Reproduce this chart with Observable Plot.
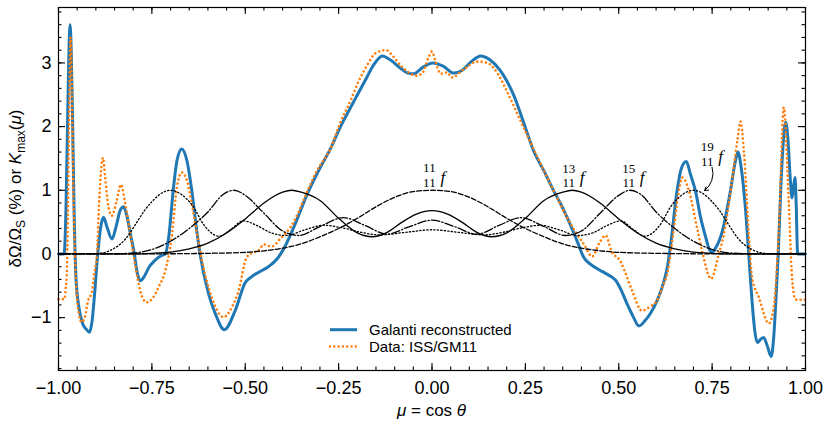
<!DOCTYPE html>
<html>
<head>
<meta charset="utf-8">
<script src="https://cdn.jsdelivr.net/npm/d3@7"></script>
<script src="https://cdn.jsdelivr.net/npm/@observablehq/plot@0.6"></script>
<style>
  html, body { margin: 0; padding: 0; background: #fff; }
</style>
</head>
<body>
<div id="chart"></div>
<script>
// ---------------- data ----------------
const galantiMu = [-1.000,-0.985,-0.980,-0.975,-0.972,-0.969,-0.966,-0.962,-0.958,-0.953,-0.945,-0.935,-0.926,-0.917,-0.910,-0.903,-0.895,-0.887,-0.8795,-0.870,-0.857,-0.845,-0.835,-0.826,-0.817,-0.807,-0.797,-0.789,-0.781,-0.770,-0.757,-0.745,-0.732,-0.722,-0.714,-0.705,-0.692,-0.683,-0.670,-0.656,-0.643,-0.630,-0.621,-0.598,-0.580,-0.556,-0.527,-0.500,-0.486,-0.465,-0.438,-0.415,-0.397,-0.370,-0.334,-0.300,-0.272,-0.245,-0.218,-0.195,-0.174,-0.155,-0.133,-0.110,-0.085,-0.065,-0.049,-0.025,0.002,0.030,0.058,0.080,0.105,0.130,0.155,0.183,0.200,0.219,0.245,0.272,0.300,0.326,0.345,0.362,0.388,0.406,0.424,0.445,0.460,0.478,0.491,0.505,0.522,0.540,0.554,0.570,0.585,0.603,0.620,0.630,0.639,0.656,0.668,0.681,0.692,0.705,0.720,0.732,0.742,0.750,0.760,0.777,0.799,0.812,0.819,0.828,0.839,0.848,0.857,0.864,0.871,0.880,0.888,0.898,0.908,0.915,0.921,0.927,0.934,0.941,0.947,0.953,0.959,0.964,0.968,0.972,0.975,0.979,0.985,1.000];
const galantiVal = [0,0,0.7,2.3,3.2,3.6,3.2,2.0,0.6,-0.4,-0.85,-1.1,-1.18,-1.23,-1.05,-0.6,0,0.42,0.575,0.42,0.235,0.45,0.68,0.74,0.6,0.3,0,-0.3,-0.42,-0.35,-0.2,-0.12,-0.05,-0.02,0,0.26,1.05,1.46,1.65,1.46,0.99,0.37,0,-0.63,-0.94,-1.19,-0.89,-0.45,-0.37,-0.29,-0.2,-0.08,0.08,0.42,0.94,1.35,1.65,2.0,2.3,2.55,2.78,2.98,3.11,3.04,2.92,2.84,2.83,2.93,3.0,2.95,2.84,2.88,3.02,3.11,3.05,2.88,2.72,2.49,2.07,1.62,1.3,0.99,0.78,0.57,0.21,-0.05,-0.16,-0.24,-0.29,-0.35,-0.41,-0.55,-0.78,-1.0,-1.13,-1.05,-0.93,-0.73,-0.45,-0.21,0.15,0.99,1.35,1.45,1.25,1.0,0.55,0.28,0.08,0.03,0.1,0.35,0.99,1.45,1.6,1.35,0.73,0,-0.75,-1.2,-1.39,-1.34,-1.31,-1.45,-1.61,-1.3,-0.7,0,1.05,1.8,2.07,1.8,1.2,0.88,1.05,1.2,0.8,0,0,0];

const issMu = [-1.000,-0.984,-0.981,-0.978,-0.975,-0.972,-0.968,-0.965,-0.962,-0.958,-0.952,-0.945,-0.938,-0.930,-0.920,-0.911,-0.904,-0.897,-0.891,-0.886,-0.881,-0.875,-0.866,-0.857,-0.844,-0.833,-0.821,-0.808,-0.795,-0.781,-0.764,-0.746,-0.732,-0.714,-0.697,-0.683,-0.670,-0.656,-0.643,-0.630,-0.616,-0.590,-0.558,-0.536,-0.518,-0.496,-0.480,-0.465,-0.450,-0.440,-0.428,-0.406,-0.379,-0.357,-0.343,-0.331,-0.308,-0.272,-0.245,-0.218,-0.196,-0.174,-0.152,-0.124,-0.102,-0.084,-0.062,-0.044,-0.027,-0.009,0.000,0.009,0.023,0.041,0.053,0.085,0.121,0.148,0.174,0.200,0.237,0.272,0.300,0.326,0.362,0.388,0.406,0.429,0.447,0.465,0.480,0.505,0.516,0.536,0.562,0.585,0.603,0.618,0.630,0.648,0.660,0.670,0.688,0.710,0.725,0.747,0.768,0.781,0.795,0.808,0.818,0.826,0.835,0.848,0.857,0.875,0.902,0.915,0.929,0.942,0.955,0.964,0.973,0.980,1.000];
const issVal = [-0.71,-0.71,-0.55,-0.35,0.6,2.0,3.4,2.9,1.7,0.4,-0.55,-0.95,-1.07,-1.0,-0.72,-0.6,-0.3,0,0.84,1.31,1.51,1.2,0.73,0.60,0.84,1.09,0.78,0.31,-0.16,-0.58,-0.76,-0.68,-0.52,-0.26,0.26,1.05,1.28,1.15,0.78,0.35,-0.1,-0.68,-0.99,-0.84,-0.58,-0.05,0.02,0.05,0.15,0.13,0.12,0.24,0.42,0.66,0.86,1.02,1.31,1.65,2.07,2.41,2.72,2.96,3.15,3.2,3.09,2.96,2.85,2.8,2.83,3.09,3.18,3.03,2.83,2.85,2.77,2.9,3.02,3.0,2.85,2.56,2.09,1.65,1.3,0.99,0.57,0.31,0.16,-0.04,0.16,0.29,0.05,-0.12,-0.27,-0.58,-0.89,-0.82,-0.73,-0.5,-0.31,0.42,0.95,1.2,0.99,0.4,0,-0.39,0,0.3,0.8,1.36,1.8,2.08,1.62,0.31,-0.37,-0.68,-1.09,-0.84,0.42,2.3,0.84,-0.37,-0.71,-0.72,-0.72];

// kernels K_max(mu)
const k11Mu  = [-1,-0.8,-0.7,-0.6,-0.5,-0.45,-0.4,-0.35,-0.3,-0.25,-0.2,-0.15,-0.1,-0.05,0,0.05,0.1,0.15,0.2,0.25,0.3,0.35,0.4,0.45,0.5,0.6,0.7,0.8,1];
const k11Val = [0,0,0.003,0.01,0.025,0.05,0.09,0.16,0.27,0.40,0.56,0.74,0.89,0.98,1.0,0.98,0.89,0.74,0.56,0.40,0.27,0.16,0.09,0.05,0.025,0.01,0.003,0,0];

const k13Mu  = [-1,-0.8,-0.75,-0.7,-0.65,-0.6,-0.55,-0.5,-0.45,-0.4,-0.375,-0.35,-0.3,-0.25,-0.2,-0.16,-0.12,-0.08,-0.04,0,0.04,0.08,0.12,0.16,0.2,0.25,0.3,0.35,0.375,0.4,0.45,0.5,0.55,0.6,0.65,0.7,0.75,0.8,1];
const k13Val = [0,0,0.01,0.03,0.08,0.17,0.33,0.55,0.8,0.97,1.0,0.97,0.84,0.56,0.33,0.27,0.34,0.5,0.63,0.68,0.63,0.5,0.34,0.27,0.33,0.56,0.84,0.97,1.0,0.97,0.8,0.55,0.33,0.17,0.08,0.03,0.01,0,0];

const k15Mu  = [-1,-0.85,-0.8,-0.75,-0.7,-0.65,-0.6,-0.56,-0.53,-0.5,-0.45,-0.4,-0.357,-0.3,-0.237,-0.18,-0.12,-0.06,0,0.06,0.12,0.18,0.237,0.3,0.357,0.4,0.45,0.5,0.53,0.56,0.6,0.65,0.7,0.75,0.8,0.85,1];
const k15Val = [0,0.003,0.015,0.07,0.2,0.4,0.66,0.93,1.0,0.92,0.64,0.36,0.29,0.43,0.57,0.45,0.31,0.43,0.53,0.43,0.31,0.45,0.57,0.43,0.29,0.36,0.64,0.92,1.0,0.93,0.66,0.4,0.2,0.07,0.015,0.003,0];

const k19Mu  = [-1,-0.92,-0.88,-0.86,-0.82,-0.79,-0.77,-0.75,-0.73,-0.7,-0.67,-0.64,-0.61,-0.57,-0.54,-0.505,-0.47,-0.43,-0.39,-0.34,-0.29,-0.24,-0.19,-0.14,-0.07,0,0.07,0.14,0.19,0.24,0.29,0.34,0.39,0.43,0.47,0.505,0.54,0.57,0.61,0.64,0.67,0.7,0.73,0.75,0.77,0.79,0.82,0.86,0.88,0.92,1];
const k19Val = [0,0,0.02,0.06,0.24,0.5,0.68,0.82,0.93,1.0,0.93,0.75,0.45,0.28,0.38,0.52,0.45,0.33,0.29,0.38,0.45,0.41,0.34,0.30,0.34,0.38,0.34,0.30,0.34,0.41,0.45,0.38,0.29,0.33,0.45,0.52,0.38,0.28,0.45,0.75,0.93,1.0,0.93,0.82,0.68,0.5,0.24,0.06,0.02,0,0];

// annotation labels: stacked fraction (numerator, denominator) + "f"
const labelNum = ["11", "13", "15", "19"];
const labelDen = ["11", "11", "11", "11"];
const labelMu  = [-0.007, 0.366, 0.527, 0.737];
const labelY   = [1.053, 1.045, 1.045, 1.38];   // denominator baseline
// arrow from 19/11 f label to its kernel
const arrowFrom = [0.750, 1.36];
const arrowTo   = [0.7296, 0.995];

// ticks
const xMajor = [-1,-0.75,-0.5,-0.25,0,0.25,0.5,0.75,1];
const xMinor = d3.range(-20, 21).map(i => i * 0.05);
const yMajor = [-1,0,1,2,3];
const yMinor = d3.range(-9, 20).map(i => i * 0.2);

// ---------------- layout ----------------
const W = 830, H = 428;
const mL = 58, mR = 25, mT = 7, mB = 58;
const xDom = [-1, 1], yDom = [-1.83, 3.87];
const pxX = (xDom[1] - xDom[0]) / (W - mL - mR);
const pxY = (yDom[1] - yDom[0]) / (H - mT - mB);
const majLen = 7, minLen = 3.5;

const toRows = (mu, v) => mu.map((m, i) => ({mu: m, v: v[i]}));
const galanti = toRows(galantiMu, galantiVal);
const iss = toRows(issMu, issVal);
const k11 = toRows(k11Mu, k11Val);
const k13 = toRows(k13Mu, k13Val);
const k15 = toRows(k15Mu, k15Val);
const k19 = toRows(k19Mu, k19Val);
const labels = labelNum.map((n, i) => ({num: n, den: labelDen[i], mu: labelMu[i], y: labelY[i]}));
const arrows = [{x1: arrowFrom[0], y1: arrowFrom[1], x2: arrowTo[0], y2: arrowTo[1]}];

const sans = "Liberation Sans, Arial, Helvetica, sans-serif";
const serif = "Liberation Serif, DejaVu Serif, serif";
const kw = 1.3;
const fracSize = 13, fracGap = 14.6;

const tickRulesX = (ticks, len) => [
  Plot.ruleX(ticks, {x: d => d, y1: () => yDom[0], y2: () => yDom[0] + len * pxY, stroke: "black", strokeWidth: 1.1}),
  Plot.ruleX(ticks, {x: d => d, y1: () => yDom[1] - len * pxY, y2: () => yDom[1], stroke: "black", strokeWidth: 1.1})
];
const tickRulesY = (ticks, len) => [
  Plot.ruleY(ticks, {y: d => d, x1: () => xDom[0], x2: () => xDom[0] + len * pxX, stroke: "black", strokeWidth: 1.1}),
  Plot.ruleY(ticks, {y: d => d, x1: () => xDom[1] - len * pxX, x2: () => xDom[1], stroke: "black", strokeWidth: 1.1})
];

const chart = Plot.plot({
  width: W, height: H,
  marginLeft: mL, marginRight: mR, marginTop: mT, marginBottom: mB,
  style: {fontFamily: sans, fontSize: "18px", background: "white", color: "black"},
  x: {domain: xDom, label: null},
  y: {domain: yDom, label: null},
  marks: [
    Plot.line(galanti, {x: "mu", y: "v", stroke: "#1f77b4", strokeWidth: 3, curve: "monotone-x"}),
    Plot.line(iss, {x: "mu", y: "v", stroke: "#ff7f0e", strokeWidth: 2.6, strokeDasharray: "0.01,4.3", strokeLinecap: "round", curve: "monotone-x"}),
    Plot.line(k11, {x: "mu", y: "v", stroke: "black", strokeWidth: kw, strokeDasharray: "4.9,2.1", curve: "monotone-x"}),
    Plot.line(k15, {x: "mu", y: "v", stroke: "black", strokeWidth: kw, strokeDasharray: "8.5,2.1,1.3,2.1", curve: "monotone-x"}),
    Plot.line(k19, {x: "mu", y: "v", stroke: "black", strokeWidth: kw, strokeDasharray: "1.3,2.2", curve: "monotone-x"}),
    Plot.line(k13, {x: "mu", y: "v", stroke: "black", strokeWidth: kw, curve: "monotone-x"}),
    Plot.text(labels, {x: "mu", y: "y", text: "num", lineAnchor: "bottom", dy: -fracGap, textAnchor: "middle", fontFamily: serif, fontSize: fracSize, fill: "black"}),
    Plot.text(labels, {x: "mu", y: "y", text: "den", lineAnchor: "bottom", textAnchor: "middle", fontFamily: serif, fontSize: fracSize, fill: "black"}),
    Plot.text(labels, {x: "mu", y: "y", text: () => "f", lineAnchor: "bottom", dx: 11, dy: -4, textAnchor: "start", fontFamily: serif, fontStyle: "italic", fontSize: 17, fill: "black"}),
    Plot.arrow(arrows, {x1: "x1", y1: "y1", x2: "x2", y2: "y2", bend: 35, headLength: 6, strokeWidth: 1, stroke: "black"}),
    ...tickRulesX(xMinor, minLen),
    ...tickRulesX(xMajor, majLen),
    ...tickRulesY(yMinor, minLen),
    ...tickRulesY(yMajor, majLen),
    Plot.axisX(xMajor, {anchor: "bottom", tickSize: 0, tickPadding: 11, tickFormat: d3.format(".2f"), label: null}),
    Plot.axisY(yMajor, {anchor: "left", tickSize: 0, tickPadding: 7, tickFormat: d3.format("d"), label: null}),
    Plot.frame({stroke: "black", strokeWidth: 1.2})
  ]
});

document.getElementById("chart").appendChild(chart);

// ---------------- axis titles and legend ----------------
const svg = d3.select(chart);

// y axis title
const yl = svg.append("text")
  .attr("transform", `translate(21,${(mT + H - mB) / 2}) rotate(-90)`)
  .attr("text-anchor", "middle")
  .style("font-family", sans).style("font-size", "17px").attr("fill", "black");
yl.append("tspan").text("δΩ/Ω");
yl.append("tspan").attr("dy", 4).style("font-size", "12px").text("S");
yl.append("tspan").attr("dy", -4).text(" (%) or ");
yl.append("tspan").style("font-style", "italic").text("K");
yl.append("tspan").attr("dy", 4).style("font-size", "12px").text("max");
yl.append("tspan").attr("dy", -4).text("(");
yl.append("tspan").style("font-style", "italic").text("μ");
yl.append("tspan").text(")");

// x axis title
const xl = svg.append("text")
  .attr("x", mL + (W - mL - mR) / 2).attr("y", 416)
  .attr("text-anchor", "middle")
  .style("font-family", sans).style("font-size", "17px").attr("fill", "black");
xl.append("tspan").style("font-style", "italic").text("μ");
xl.append("tspan").text(" = cos ");
xl.append("tspan").style("font-style", "italic").text("θ");

// legend
const legendItems = [
  {label: "Galanti reconstructed", color: "#1f77b4", width: 3, dash: null, cap: "butt", y: 329.7},
  {label: "Data: ISS/GM11", color: "#ff7f0e", width: 2.6, dash: "0.01,4.3", cap: "round", y: 346.5}
];
const lg = svg.append("g");
legendItems.forEach(it => {
  const ln = lg.append("line").attr("x1", 330).attr("x2", 357).attr("y1", it.y).attr("y2", it.y)
    .attr("stroke", it.color).attr("stroke-width", it.width).attr("stroke-linecap", it.cap);
  if (it.dash) ln.attr("stroke-dasharray", it.dash);
  lg.append("text").attr("x", 369).attr("y", it.y + 5.2)
    .attr("text-anchor", "start")
    .style("font-family", sans).style("font-size", "15px").attr("fill", "black").text(it.label);
});
</script>
</body>
</html>
